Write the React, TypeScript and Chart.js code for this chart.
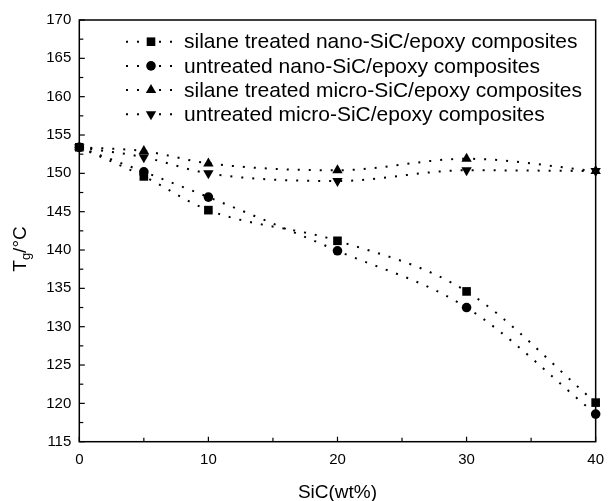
import React, { useEffect, useRef } from 'react';
import { Chart, registerables } from 'chart.js';

Chart.register(...registerables);

const sicWt = [0, 5, 10, 20, 30, 40];
const silaneNano = [153.4, 149.6, 145.2, 141.2, 134.6, 120.1];
const untreatedNano = [153.4, 150.2, 146.9, 139.9, 132.5, 118.6];
const silaneMicro = [153.4, 152.9, 151.3, 150.4, 151.9, 150.3];
const untreatedMicro = [153.4, 152.1, 150.0, 149.0, 150.4, 150.3];

const seriesLabels = [
  'silane treated nano-SiC/epoxy composites',
  'untreated nano-SiC/epoxy composites',
  'silane treated micro-SiC/epoxy composites',
  'untreated micro-SiC/epoxy composites',
];
const seriesValues = [silaneNano, untreatedNano, silaneMicro, untreatedMicro];
const seriesMarkers = ['rect', 'circle', 'triangle', 'triangleDown'];

const xTitle = 'SiC(wt%)';
const xMin = 0, xMax = 40, xStep = 10;
const yMin = 115, yMax = 170, yStep = 5;

const FONT = '"Liberation Sans", Arial, Helvetica, sans-serif';
const DASH = [2, 9];

function drawMarker(ctx: CanvasRenderingContext2D, kind: string, x: number, y: number) {
  ctx.save();
  ctx.fillStyle = '#000';
  ctx.beginPath();
  if (kind === 'rect') {
    const s = 4.3;
    ctx.rect(x - s, y - s, 2 * s, 2 * s);
  } else if (kind === 'circle') {
    ctx.arc(x, y, 4.8, 0, Math.PI * 2);
  } else if (kind === 'triangle') {
    const r = 6;
    ctx.moveTo(x, y - r);
    ctx.lineTo(x + r * 0.866, y + r * 0.5);
    ctx.lineTo(x - r * 0.866, y + r * 0.5);
  } else {
    const r = 6;
    ctx.moveTo(x, y + r);
    ctx.lineTo(x + r * 0.866, y - r * 0.5);
    ctx.lineTo(x - r * 0.866, y - r * 0.5);
  }
  ctx.closePath();
  ctx.fill();
  ctx.restore();
}

const decorPlugin = {
  id: 'decor',
  afterDraw(chart: any) {
    const { ctx, chartArea } = chart;
    const { left, right, top, bottom } = chartArea;
    const xs = chart.scales.x;
    const ys = chart.scales.y;
    ctx.save();
    ctx.strokeStyle = '#000';
    ctx.lineWidth = 1.5;
    ctx.setLineDash([]);
    ctx.strokeRect(left, top, right - left, bottom - top);
    // inward ticks
    ctx.lineWidth = 1.2;
    for (let v = xMin; v <= xMax; v += xStep / 2) {
      const px = xs.getPixelForValue(v);
      const len = v % xStep === 0 ? 5 : 4;
      ctx.beginPath();
      ctx.moveTo(px, bottom);
      ctx.lineTo(px, bottom - len);
      ctx.stroke();
    }
    for (let v = yMin; v <= yMax; v += yStep / 2) {
      const py = ys.getPixelForValue(v);
      const len = v % yStep === 0 ? 5.5 : 4;
      ctx.beginPath();
      ctx.moveTo(left, py);
      ctx.lineTo(left + len, py);
      ctx.stroke();
    }

    // legend
    ctx.font = `21px ${FONT}`;
    ctx.textBaseline = 'middle';
    ctx.textAlign = 'left';
    ctx.fillStyle = '#000';
    seriesLabels.forEach((label, i) => {
      const y = 41.7 + i * 24.2;
      ctx.save();
      ctx.lineWidth = 2;
      ctx.setLineDash(DASH);
      ctx.beginPath();
      ctx.moveTo(126, y);
      ctx.lineTo(181, y);
      ctx.stroke();
      ctx.restore();
      drawMarker(ctx, seriesMarkers[i], 151, y);
      ctx.fillText(label, 184, y + 1);
    });

    // x title
    ctx.textAlign = 'center';
    ctx.textBaseline = 'alphabetic';
    ctx.font = `19px ${FONT}`;
    ctx.fillText(xTitle, (left + right) / 2, 497.5);

    // y title: T_g/°C
    ctx.save();
    ctx.translate(26, 249);
    ctx.rotate(-Math.PI / 2);
    const bigFont = `19px ${FONT}`;
    const subFont = `13px ${FONT}`;
    ctx.font = bigFont;
    const wT = ctx.measureText('T').width;
    const wRest = ctx.measureText('/°C').width;
    ctx.font = subFont;
    const wG = ctx.measureText('g').width;
    const total = wT + wG + wRest;
    let cx = -total / 2;
    ctx.textAlign = 'left';
    ctx.font = bigFont;
    ctx.fillText('T', cx, 0);
    cx += wT;
    ctx.font = subFont;
    ctx.fillText('g', cx, 4);
    cx += wG;
    ctx.font = bigFont;
    ctx.fillText('/°C', cx, 0);
    ctx.restore();

    ctx.restore();
  },
};

export default function App() {
  const canvasRef = useRef<HTMLCanvasElement | null>(null);

  useEffect(() => {
    const canvas = canvasRef.current;
    if (!canvas) return;
    const datasets = seriesLabels.map((label, i) => ({
      label,
      data: sicWt.map((x, j) => ({ x, y: seriesValues[i][j] })),
      borderColor: '#000',
      backgroundColor: '#000',
      borderWidth: 2,
      borderDash: DASH,
      cubicInterpolationMode: 'monotone' as const,
      pointStyle: seriesMarkers[i] === 'triangleDown' ? 'triangle' : seriesMarkers[i],
      rotation: seriesMarkers[i] === 'triangleDown' ? 180 : 0,
      pointRadius: seriesMarkers[i] === 'rect' ? 6.1 : seriesMarkers[i] === 'circle' ? 4.8 : 6,
      pointBorderWidth: 0,
      pointBackgroundColor: '#000',
      showLine: true,
      clip: false as any,
    }));

    const chart = new Chart(canvas, {
      type: 'scatter',
      data: { datasets },
      options: {
        responsive: false,
        animation: false,
        events: [],
        layout: { padding: { left: 0, top: 20, right: 8, bottom: 0 } },
        plugins: {
          legend: { display: false },
          tooltip: { enabled: false },
        },
        scales: {
          x: {
            type: 'linear',
            min: xMin,
            max: xMax,
            grid: { display: false, drawTicks: false },
            border: { display: false },
            ticks: {
              stepSize: xStep,
              color: '#000',
              padding: 9,
              font: { family: FONT, size: 15 },
              maxRotation: 0,
            },
            afterFit: (scale: any) => {
              scale.height = 59.3;
            },
          },
          y: {
            type: 'linear',
            min: yMin,
            max: yMax,
            grid: { display: false, drawTicks: false },
            border: { display: false },
            ticks: {
              stepSize: yStep,
              color: '#000',
              padding: 8,
              font: { family: FONT, size: 15 },
            },
            afterFit: (scale: any) => {
              scale.width = 79.3;
            },
          },
        },
      },
      plugins: [decorPlugin],
    });
    return () => chart.destroy();
  }, []);

  return (
    <div style={{ position: 'fixed', left: 0, top: 0, width: 613, height: 501, background: '#fff' }}>
      <canvas ref={canvasRef} width={613} height={501} style={{ display: 'block' }} />
    </div>
  );
}
